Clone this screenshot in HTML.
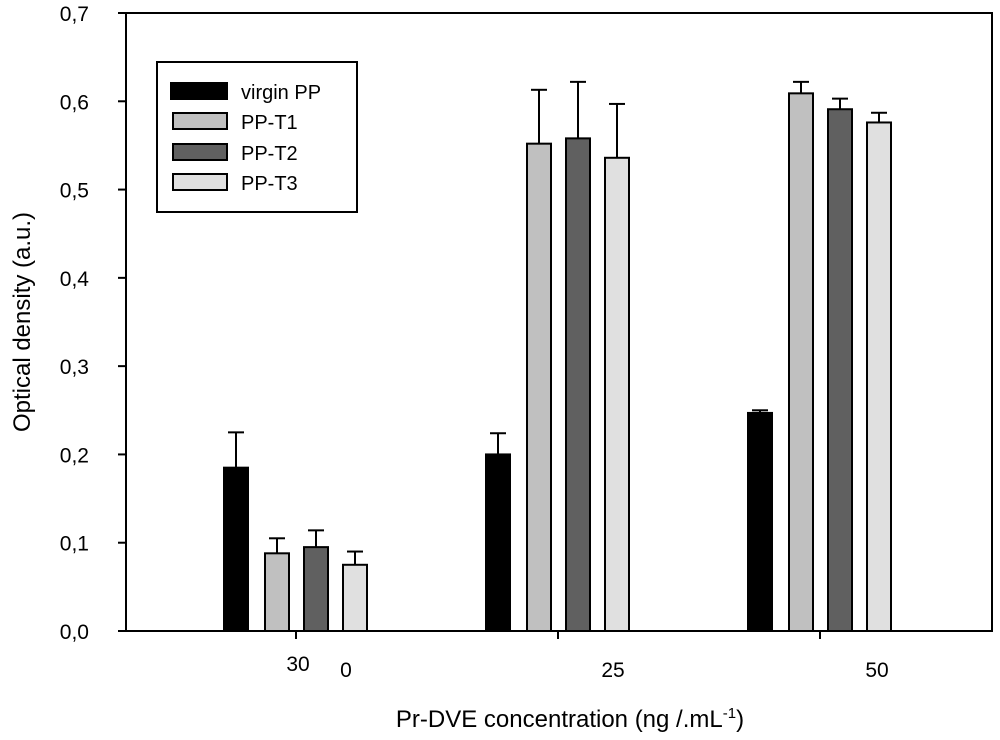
<!DOCTYPE html>
<html><head><meta charset="utf-8"><style>
body{margin:0;background:#fff}
svg{display:block;font-family:"Liberation Sans",Arial,sans-serif}
</style></head><body>
<svg id="chart" width="1000" height="740">
<g id="marks"></g>
<g id="axes"></g>
</svg>
<script>
const categories = ["0", "25", "50"];
const seriesNames = ["virgin PP", "PP-T1", "PP-T2", "PP-T3"];
const seriesColors = ["#000000", "#c0c0c0", "#606060", "#e0e0e0"];
const virginPP = [0.185, 0.200, 0.247];
const ppT1 = [0.088, 0.552, 0.609];
const ppT2 = [0.095, 0.558, 0.591];
const ppT3 = [0.075, 0.536, 0.576];
const errVirgin = [0.040, 0.024, 0.003];
const errT1 = [0.017, 0.061, 0.013];
const errT2 = [0.019, 0.064, 0.012];
const errT3 = [0.015, 0.061, 0.011];
const yTicks = [0, 0.1, 0.2, 0.3, 0.4, 0.5, 0.6, 0.7];
const yTickLabels = ["0,0","0,1","0,2","0,3","0,4","0,5","0,6","0,7"];

const NS = "http://www.w3.org/2000/svg";
const L = 126, R = 992, T = 13, B = 631;
const groupCenters = [296, 558, 820];
const barOffsets = [-72, -31, 8, 47];
const barW = 24;
function y(v){ return B - (v / 0.7) * (B - T); }
function xc(i){ return groupCenters[i]; }
function mk(tag, attrs, parent){ const e = document.createElementNS(NS, tag); for (const k in attrs) e.setAttribute(k, attrs[k]); parent.appendChild(e); return e; }

const marks = document.getElementById('marks');
const axes = document.getElementById('axes');
const series = [virginPP, ppT1, ppT2, ppT3];
const errs = [errVirgin, errT1, errT2, errT3];
series.forEach((vals, s) => {
  vals.forEach((v, i) => {
    const x0 = xc(i) + barOffsets[s];
    const cx = x0 + barW / 2;
    const top = y(v + errs[s][i]);
    const el = mk('line', {x1: cx, x2: cx, y1: y(v), y2: top, stroke: '#000', 'stroke-width': 2}, marks);
    
    
    const cap = mk('line', {x1: cx - 8, x2: cx + 8, y1: top, y2: top, stroke: '#000', 'stroke-width': 2}, marks);
    
    
    const r = mk('rect', {x: x0, y: y(v), width: barW, height: B - y(v), fill: seriesColors[s], stroke: '#000', 'stroke-width': 2}, marks);
    
    
  });
});

const fr = mk('rect', {x: L, y: T, width: R - L, height: B - T, fill: 'none', stroke: '#000', 'stroke-width': 2}, axes);


yTicks.forEach((t, i) => {
  const tk = mk('line', {x1: L - 8, x2: L, y1: y(t), y2: y(t), stroke: '#000', 'stroke-width': 2}, axes);
  
  
  const tx = mk('text', {x: 89, y: y(t) + 8, 'text-anchor': 'end', 'font-size': 21}, axes);
  tx.textContent = yTickLabels[i];
  
  
});
categories.forEach((c, i) => {
  const tk = mk('line', {x1: xc(i), x2: xc(i), y1: B, y2: B + 8, stroke: '#000', 'stroke-width': 2}, axes);
  
  
});
const xLabels = [["30", 298, 671], ["0", 346, 677], ["25", 613, 677], ["50", 877, 677]];
xLabels.forEach(l => {
  const tx = mk('text', {x: l[1], y: l[2], 'text-anchor': 'middle', 'font-size': 21}, axes);
  tx.textContent = l[0];
  
  
});
</script>
<svg style="position:absolute;left:0;top:0" width="1000" height="740">
<text x="570" y="727" text-anchor="middle" font-size="24" font-family="Liberation Sans, sans-serif">Pr-DVE concentration (ng /.mL<tspan dy="-9" font-size="15">-1</tspan><tspan dy="9">)</tspan></text>
<text transform="translate(30,322) rotate(-90)" text-anchor="middle" font-size="24" font-family="Liberation Sans, sans-serif">Optical density (a.u.)</text>
<g font-family="Liberation Sans, sans-serif" font-size="20">
<rect x="157" y="62" width="200" height="150" fill="#fff" stroke="#000" stroke-width="2"/>
<rect x="171" y="83" width="56" height="16" fill="#000" stroke="#000" stroke-width="2"/>
<text x="241" y="99">virgin PP</text>
<rect x="173" y="113" width="54" height="16" fill="#c0c0c0" stroke="#000" stroke-width="2"/>
<text x="241" y="129">PP-T1</text>
<rect x="173" y="144" width="54" height="16" fill="#606060" stroke="#000" stroke-width="2"/>
<text x="241" y="160">PP-T2</text>
<rect x="173" y="174" width="54" height="16" fill="#e0e0e0" stroke="#000" stroke-width="2"/>
<text x="241" y="190">PP-T3</text>
</g>
</svg>
</body></html>
